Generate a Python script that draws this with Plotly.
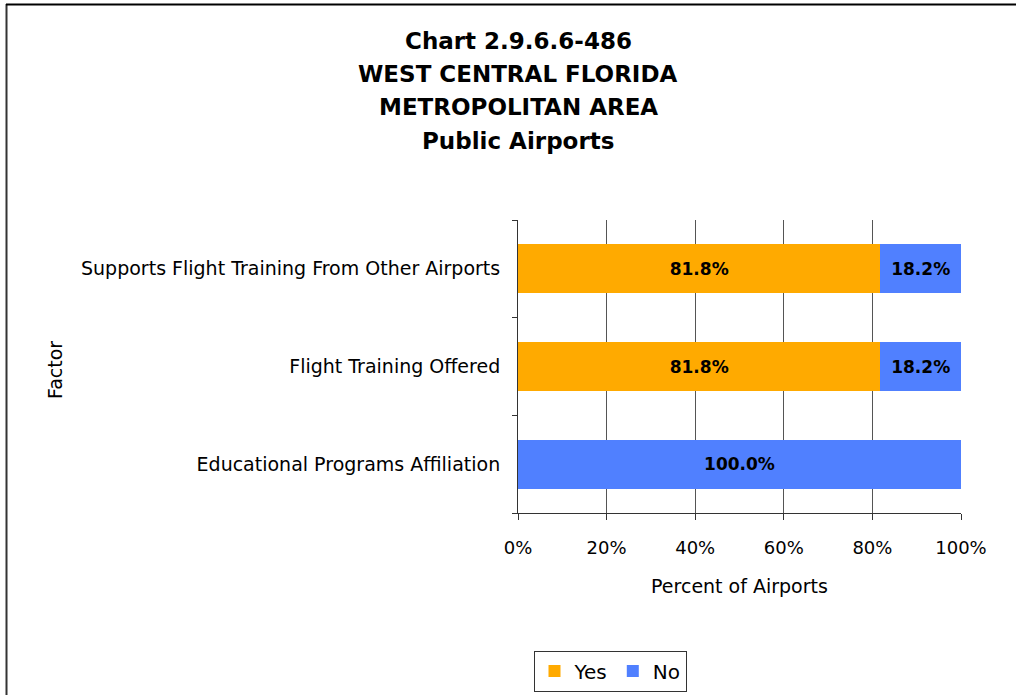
import plotly.graph_objects as go

categories = ["Educational Programs Affiliation", "Flight Training Offered",
              "Supports Flight Training From Other Airports"]
yes_values = [0.0, 81.8, 81.8]
no_values = [100.0, 18.2, 18.2]
x_ticks = [0, 20, 40, 60, 80, 100]
x_tick_labels = ["0%", "20%", "40%", "60%", "80%", "100%"]
title_lines = ["Chart 2.9.6.6-486", "WEST CENTRAL FLORIDA", "METROPOLITAN AREA", "Public Airports"]

FONT = "DejaVu Sans, Liberation Sans, Arial, sans-serif"

def labels(vals):
    return [f"{v:.1f}%" if v > 0 else "" for v in vals]

fig = go.Figure()
fig.add_trace(go.Bar(
    y=categories, x=yes_values, name="Yes", orientation="h",
    marker=dict(color="#FFAA00", line=dict(width=0)),
    text=labels(yes_values), textposition="inside", insidetextanchor="middle",
    textfont=dict(family=FONT, size=17, color="black", weight="bold"),
    textangle=0, cliponaxis=False,
))
fig.add_trace(go.Bar(
    y=categories, x=no_values, name="No", orientation="h",
    marker=dict(color="#5080FF", line=dict(width=0)),
    text=labels(no_values), textposition="inside", insidetextanchor="middle",
    textfont=dict(family=FONT, size=17, color="black", weight="bold"),
    textangle=0, cliponaxis=False,
))

L, R, T, B = 518, 961, 220, 513
W, H = 1016, 695

def px_x(px):
    return (px - L) / (R - L)

def px_y(py):
    return (B - py) / (B - T)

# title lines as annotations
title_y = [41, 74, 107, 141]
for line, py in zip(title_lines, title_y):
    fig.add_annotation(
        text=f"<b>{line}</b>", x=px_x(518), xref="paper",
        y=px_y(py), yref="paper",
        xanchor="center", yanchor="middle", showarrow=False,
        font=dict(family=FONT, size=23, color="black"),
    )
# y axis title
fig.add_annotation(
    text="Factor", x=px_x(55), xref="paper", y=px_y(370), yref="paper",
    xanchor="center", yanchor="middle", showarrow=False, textangle=-90,
    font=dict(family=FONT, size=19, color="black"),
)

fig.update_layout(
    width=W, height=H,
    margin=dict(l=L, r=W - R, t=T, b=H - B, pad=0),
    barmode="stack", bargap=0.5,
    plot_bgcolor="white", paper_bgcolor="white",
    font=dict(family=FONT, size=19, color="black"),
    showlegend=True,
    legend=dict(
        orientation="h", xref="container", yref="container",
        x=610 / W, y=(H - 671) / H, xanchor="center", yanchor="middle",
        bordercolor="#333333", borderwidth=1, bgcolor="white",
        font=dict(family=FONT, size=20, color="black"),
        itemsizing="constant", traceorder="normal",
        itemwidth=30,
    ),
    shapes=[
        dict(type="line", xref="paper", yref="paper",
             x0=px_x(6.5), x1=px_x(6.5), y0=px_y(4), y1=px_y(H + 5),
             line=dict(color="#333333", width=2)),
        dict(type="line", xref="paper", yref="paper",
             x0=px_x(6), x1=px_x(W + 5), y0=px_y(4.5), y1=px_y(4.5),
             line=dict(color="black", width=2)),
    ],
)

fig.update_xaxes(
    range=[0, 100], tickvals=x_ticks, ticktext=x_tick_labels,
    showgrid=True, gridcolor="#555555", gridwidth=1,
    showline=True, linecolor="#333333", linewidth=1,
    ticks="outside", ticklen=6, tickcolor="#333333",
    tickfont=dict(family=FONT, size=18, color="black"),
    ticklabelstandoff=12,
    title=dict(text="Percent of Airports", standoff=23,
               font=dict(family=FONT, size=19, color="black")),
    zeroline=False, fixedrange=True,
)
fig.update_yaxes(
    type="category", categoryorder="array", categoryarray=categories,
    tickson="boundaries", ticks="outside", ticklen=5, tickcolor="#333333",
    showline=True, linecolor="#333333", linewidth=1,
    showgrid=False,
    tickfont=dict(family=FONT, size=19, color="black"),
    ticklabelstandoff=13,
    fixedrange=True,
)

fig.write_html("out.html", config={"displayModeBar": False},
               post_script="document.body.style.margin='0';document.body.style.overflow='hidden';")
